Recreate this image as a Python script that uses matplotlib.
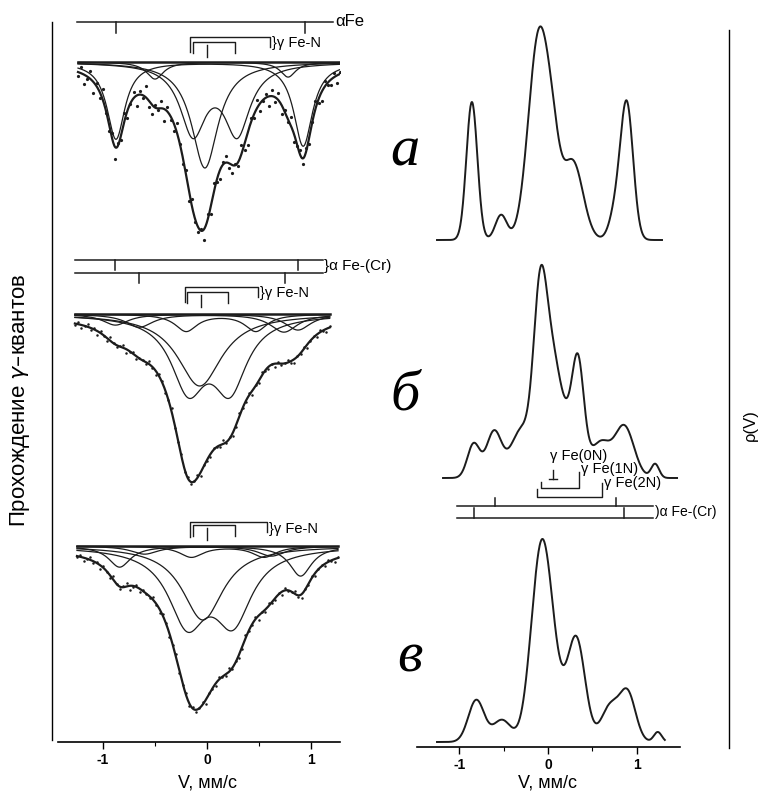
import numpy as np
import matplotlib
matplotlib.use("Agg")
import matplotlib.pyplot as plt

plt.rcParams['font.family'] = ['Liberation Sans', 'DejaVu Sans']
plt.rcParams['axes.unicode_minus'] = False
plt.rcParams['mathtext.fontset'] = 'dejavusans'

############### DATA ###################
# Mossbauer spectra (left): line position (mm/s), half width (mm/s), depth, sub-spectrum id
# depth is in plot units (drawn downward from the baseline)
A_POS = [-0.875, 0.925, -0.50, 0.78, -0.135, 0.29, -0.02]
A_WID = [0.105, 0.11, 0.10, 0.09, 0.15, 0.15, 0.155]
A_DEP = [77, 84, 17, 15, 69, 69, 106]
A_GRP = [0, 0, 1, 1, 2, 2, 3]

B_POS = [-0.88, 0.875, -0.65, 0.74, -0.20, 0.47, -0.18, 0.22, -0.07]
B_WID = [0.15, 0.15, 0.16, 0.16, 0.13, 0.13, 0.20, 0.20, 0.26]
B_DEP = [11, 16, 13, 18, 17, 17, 70, 70, 72]
B_GRP = [0, 0, 1, 1, 2, 2, 3, 3, 4]

V_POS = [-0.84, 0.90, -0.60, 0.62, -0.15, 0.55, -0.19, 0.25, -0.04]
V_WID = [0.13, 0.13, 0.16, 0.16, 0.14, 0.14, 0.22, 0.22, 0.24]
V_DEP = [21, 30, 8, 10, 11, 11, 72, 70, 74]
V_GRP = [0, 0, 1, 1, 2, 2, 3, 3, 4]

# scatter of the measured points about the fit
RES_A = [4, -6, 9, 2, -8, 11, -3, 6, -10, 3, 8, -5, 12, -2, 5, -9, 7, 1, -6, 10,
         -4, 3, -11, 6, 9, -3, 2, -7, 12, -5, 4, 8, -9, 1, 6, -4, 10, -8, 3, 5,
         -2, 11, -6, 7, -10, 2, 9, -3, -7, 5, 8, -1, 4, -9, 6, 12, -5, 3, -8, 7,
         1, -4, 10, -6, 5, -7, 9, -2, 3, -9, 8, 2, -5, 6, -3, 7, 0, -8, 4, 9,
         -6, 2, 5, -4, 8, -2]
RES_B = [1, -2, 3, 0, -3, 2, -1, 4, -2, 1, 3, -4, 0, 2, -1, -3, 4, 1, -2, 3,
         -1, 0, 2, -3, 1, 4, -2, -1, 3, 0, -4, 2, 1, -2, 3, -1, 2, 0, -3, 4,
         -1, 1, 3, -2, 0, 2, -4, 1, -1, 3, 2, -3, 0, 1, -2, 4, -1, 2, -3, 1,
         2, -1, 3, -2, 1, 0, -3, 2, 4, -1, 1, -2, 3, 0, -1, 2, -2, 1, 3, -1]

# marker lines (mm/s)
A_ALPHA = [-0.875, 0.94]
B_ALPHA1 = [-0.885, 0.875]
B_ALPHA2 = [-0.654, 0.75]
A_GAMMA = [-0.163, 0.606, -0.135, 0.27, 0.0]   # outer pair, inner pair, singlet
B_GAMMA = [-0.21, 0.49, -0.19, 0.20, -0.058]
V_GAMMA = [-0.163, 0.577, -0.135, 0.27, 0.0]

# p(V) distributions (right): position, sigma, height
RA_POS = [-0.86, -0.53, -0.10, 0.06, 0.28, 0.76, 0.89]
RA_SIG = [0.062, 0.065, 0.12, 0.08, 0.115, 0.07, 0.072]
RA_HGT = [138, 25, 206, 45, 78, 25, 135]

RB_POS = [-0.84, -0.61, -0.30, -0.09, 0.04, 0.20, 0.34, 0.60, 0.86, 1.21]
RB_SIG = [0.07, 0.085, 0.12, 0.075, 0.09, 0.16, 0.065, 0.10, 0.11, 0.045]
RB_HGT = [34, 46, 48, 160, 80, 55, 85, 32, 52, 14]

RV_POS = [-0.81, -0.52, -0.08, 0.05, 0.32, 0.70, 0.90, 1.24]
RV_SIG = [0.09, 0.10, 0.115, 0.12, 0.10, 0.10, 0.09, 0.045]
RV_HGT = [42, 22, 176, 45, 102, 35, 48, 10]

R_ALPHA1 = [-0.60, 0.77]
R_ALPHA2 = [-0.84, 0.86]
R_FE0N = 0.056
R_FE1N = [-0.08, 0.35]
R_FE2N = [-0.124, 0.61]

ink = '#1c1c1c'


############### FUNCTIONS ###################

def lorentz(v, pos, wid, dep):
  return dep * wid**2 / ((v - pos)**2 + wid**2)

def gauss(v, pos, sig, hgt):
  return hgt * np.exp(-0.5 * ((v - pos) / sig)**2)

def draw_spectrum(ax, base, vlim, pos, wid, dep, grp, res, ms):
  v = np.linspace(vlim[0], vlim[1], 500)
  total = np.zeros_like(v)
  for g in sorted(set(grp)):
    comp = np.zeros_like(v)
    for p, w, d, k in zip(pos, wid, dep, grp):
      if k == g:
        comp += lorentz(v, p, w, d)
    ax.plot(v, base - comp, color=ink, lw=0.9)
    total += comp
  ax.plot(vlim, [base, base], color=ink, lw=1.8)
  ax.plot(v, base - total, color=ink, lw=1.6)
  vp = np.linspace(vlim[0], vlim[1], len(res))
  fit = np.zeros_like(vp)
  for p, w, d in zip(pos, wid, dep):
    fit += lorentz(vp, p, w, d)
  ax.plot(vp, base - fit - np.array(res), 'o', ms=ms, color=ink, mew=0)

def draw_density(ax, base, vlim, pos, sig, hgt):
  v = np.linspace(vlim[0], vlim[1], 600)
  y = np.zeros_like(v)
  for p, s, h in zip(pos, sig, hgt):
    y += gauss(v, p, s, h)
  ax.plot(v, base + y, color=ink, lw=1.4)

def bracket(ax, x0, x1, y, y0, y1):
  # horizontal line with two legs
  ax.plot([x0, x0, x1, x1], [y0, y, y, y1], color=ink, lw=1.0)

def tick_row(ax, x0, x1, y, ticks, dy):
  ax.plot([x0, x1], [y, y], color=ink, lw=1.1)
  for t in ticks:
    ax.plot([t, t], [y, y + dy], color=ink, lw=1.1)


############### FIGURE ###################

fig = plt.figure(figsize=(7.61, 7.93), dpi=100)

# left: transmission spectra
axl = fig.add_axes([52/761, 51/793, 288/761, 722/793])
axl.set_xlim(-1.490, 1.279)
axl.set_ylim(0, 722)

draw_spectrum(axl, 680, (-1.24, 1.28), A_POS, A_WID, A_DEP, A_GRP, RES_A, 2.3)
draw_spectrum(axl, 428, (-1.27, 1.18), B_POS, B_WID, B_DEP, B_GRP, RES_B, 1.8)
draw_spectrum(axl, 196, (-1.25, 1.26), V_POS, V_WID, V_DEP, V_GRP, RES_B, 1.8)

# alpha Fe markers
tick_row(axl, -1.25, 1.21, 720, A_ALPHA, -11)
axl.text(1.235, 720, 'αFe', fontsize=12, va='center', ha='left')
tick_row(axl, -1.27, 1.115, 482, B_ALPHA1, -10)
tick_row(axl, -1.27, 1.115, 469, B_ALPHA2, -10)
axl.text(1.125, 476, '}α Fe-(Cr)', fontsize=11, va='center', ha='left')

# gamma Fe-N markers
for g, y_out, y_in, txt_y in [(A_GAMMA, 705, 700, 699), (B_GAMMA, 455, 450, 449),
                              (V_GAMMA, 220, 217, 213)]:
  bracket(axl, g[0], g[1], y_out, y_out - 15, y_out - 10)
  bracket(axl, g[2], g[3], y_in, y_in - 11, y_in - 11)
  axl.plot([g[4], g[4]], [y_in - 3, y_in - 15], color=ink, lw=1.0)
  axl.text(g[1] + 0.02, txt_y, '}γ Fe-N', fontsize=10.5, va='center', ha='left')

for s in ['top', 'right']:
  axl.spines[s].set_visible(False)
axl.spines['left'].set_bounds(2, 720)
axl.spines['bottom'].set_bounds(-1.433, 1.279)
axl.spines['left'].set_linewidth(1.0)
axl.spines['bottom'].set_linewidth(1.2)
axl.set_yticks([])
axl.set_xticks([-1, 0, 1])
axl.set_xticks([-0.5, 0.5], minor=True)
axl.tick_params(axis='x', which='major', direction='out', length=5, width=1.0,
                labelsize=10, pad=3)
axl.tick_params(axis='x', which='minor', direction='out', length=3, width=0.8)
for lab in axl.get_xticklabels():
  lab.set_fontweight('bold')
axl.set_xlabel('V, мм/с', fontsize=13)
axl.xaxis.set_label_coords((207 - 52) / 288, -(774 - 742) / 722)

# right: velocity distributions
axr = fig.add_axes([417/761, 46/793, 312/761, 727/793])
axr.set_xlim(-1.480, 2.045)
axr.set_ylim(0, 727)

draw_density(axr, 507, (-1.254, 1.288), RA_POS, RA_SIG, RA_HGT)
draw_density(axr, 269, (-1.186, 1.458), RB_POS, RB_SIG, RB_HGT)
draw_density(axr, 5, (-1.254, 1.32), RV_POS, RV_SIG, RV_HGT)

axr.text(0.02, 291, 'γ Fe(0N)', fontsize=10.5, va='center', ha='left')
axr.plot([R_FE0N, R_FE0N], [277, 268], color=ink, lw=1.0)
axr.plot([R_FE0N - 0.05, R_FE0N + 0.05], [268, 268], color=ink, lw=1.0)
bracket(axr, R_FE1N[0], R_FE1N[1], 259, 265, 275)
axr.text(R_FE1N[1] + 0.02, 278, 'γ Fe(1N)', fontsize=10.5, va='center', ha='left')
bracket(axr, R_FE2N[0], R_FE2N[1], 250, 258, 264)
axr.text(R_FE2N[1] + 0.02, 264, 'γ Fe(2N)', fontsize=10.5, va='center', ha='left')
tick_row(axr, -1.03, 1.19, 241, R_ALPHA1, 8)
tick_row(axr, -1.03, 1.19, 229, R_ALPHA2, 10)
axr.text(1.21, 235, ')α Fe-(Cr)', fontsize=10, va='center', ha='left')

for s in ['top', 'left']:
  axr.spines[s].set_visible(False)
axr.spines['bottom'].set_bounds(-1.48, 1.49)
axr.spines['right'].set_bounds(-1, 717)
axr.spines['right'].set_linewidth(1.0)
axr.spines['bottom'].set_linewidth(1.2)
axr.set_yticks([])
axr.set_xticks([-1, 0, 1])
axr.set_xticks([-0.5, 0.5], minor=True)
axr.tick_params(axis='x', which='major', direction='out', length=5, width=1.0,
                labelsize=10, pad=3)
axr.tick_params(axis='x', which='minor', direction='out', length=3, width=0.8)
for lab in axr.get_xticklabels():
  lab.set_fontweight('bold')
axr.set_xlabel('V, мм/с', fontsize=13)
axr.xaxis.set_label_coords((548 - 417) / 312, -(774 - 747) / 727)

# labels
fig.text(20/761, 1 - 400/793, 'Прохождение $\\gamma$–квантов', rotation=90,
         fontsize=16, ha='center', va='center')
fig.text(750/761, 1 - 425/793, 'ρ(V)', rotation=90, fontsize=12,
         ha='center', va='center')
for txt, x, y in [('а', 405, 152), ('б', 405, 395), ('в', 410, 658)]:
  fig.text(x/761, 1 - y/793, txt, fontsize=42, family='Liberation Serif',
           style='italic', ha='center', va='center')

plt.savefig('out.png', dpi=100)
